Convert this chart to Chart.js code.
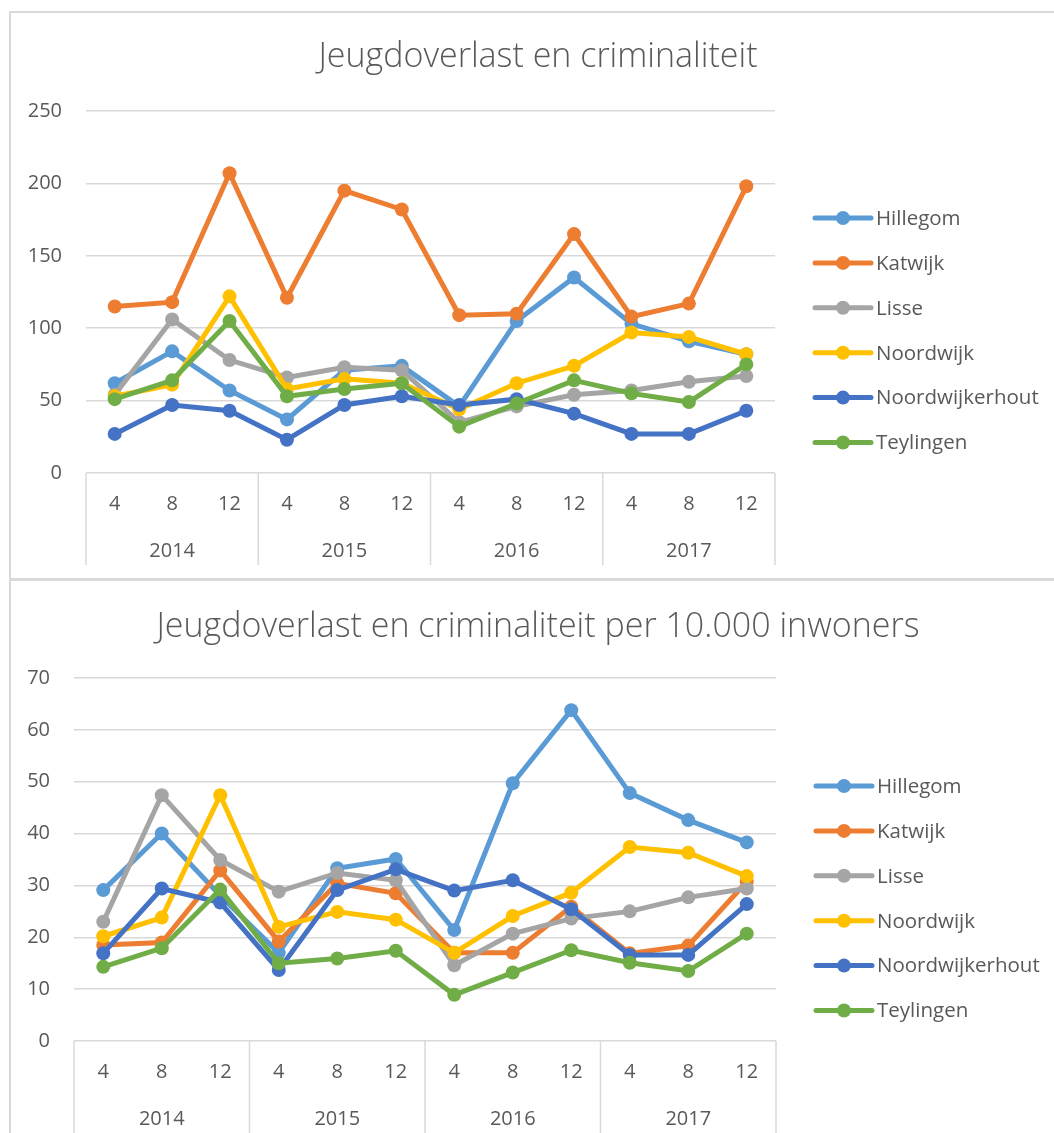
<!DOCTYPE html>
<html><head><meta charset="utf-8">
<script src="https://cdn.jsdelivr.net/npm/chart.js@4/dist/chart.umd.min.js"></script>
<style>
html,body{margin:0;padding:0;background:#fff;overflow:hidden;width:1054px;height:1133px;}
.box{position:absolute;border:2px solid #D9D9D9;box-sizing:border-box;}
.wrap{position:absolute;}
</style></head><body>
<div class="box" style="left:9px;top:11px;width:1060px;height:569px;"></div>
<div class="box" style="left:9px;top:579px;width:1060px;height:600px;"></div>
<div class="wrap" style="left:10px;top:12px;width:1044px;height:566px;"><canvas id="c1" width="1044" height="566"></canvas></div>
<div class="wrap" style="left:10px;top:580px;width:1044px;height:566px;"><canvas id="c2" width="1044" height="566"></canvas></div>
<script>
// ---- data ----
const years = ['2014','2015','2016','2017'];
const months = ['4','8','12'];
const seriesNames = ['Hillegom','Katwijk','Lisse','Noordwijk','Noordwijkerhout','Teylingen'];
const seriesColors = ['#5B9BD5','#ED7D31','#A5A5A5','#FFC000','#4472C4','#70AD47'];

const titleTotal = 'Jeugdoverlast en criminaliteit';
const totalHillegom        = [62, 84, 57, 37, 71, 74, 46, 105, 135, 103, 91, 82];
const totalKatwijk         = [115, 118, 207, 121, 195, 182, 109, 110, 165, 108, 117, 198];
const totalLisse           = [54, 106, 78, 66, 73, 71, 35, 46, 54, 57, 63, 67];
const totalNoordwijk       = [53, 61, 122, 58, 65, 62, 44, 62, 74, 97, 94, 82];
const totalNoordwijkerhout = [27, 47, 43, 23, 47, 53, 47, 51, 41, 27, 27, 43];
const totalTeylingen       = [51, 64, 105, 53, 58, 62, 32, 48, 64, 55, 49, 75];
const totalTicks = {min: 0, max: 250, step: 50};

const titlePer = 'Jeugdoverlast en criminaliteit per 10.000 inwoners';
const perHillegom        = [29.1, 40.0, 28.0, 17.0, 33.3, 35.1, 21.4, 49.7, 63.8, 47.8, 42.6, 38.3];
const perKatwijk         = [18.5, 19.0, 32.9, 19.2, 30.4, 28.5, 17.0, 17.0, 25.9, 16.9, 18.4, 30.7];
const perLisse           = [23.0, 47.4, 34.9, 28.8, 32.4, 31.0, 14.6, 20.7, 23.6, 25.0, 27.7, 29.4];
const perNoordwijk       = [20.2, 23.8, 47.4, 22.0, 24.9, 23.4, 17.0, 24.1, 28.6, 37.4, 36.3, 31.8];
const perNoordwijkerhout = [16.9, 29.4, 26.7, 13.7, 29.1, 33.1, 29.0, 31.0, 25.4, 16.6, 16.6, 26.4];
const perTeylingen       = [14.3, 17.9, 29.2, 15.0, 15.9, 17.4, 8.9, 13.2, 17.5, 15.1, 13.5, 20.7];
const perTicks = {min: 0, max: 70, step: 10};

// ---- rendering ----
const FONT = "'Open Sans', Lato, sans-serif";
const TEXT = '#595959';
const GRID = '#D9D9D9';
const categories = years.flatMap(() => months);

const groupSeparators = {
  id: 'groupSeparators',
  afterDraw(chart) {
    const xs = chart.scales.x, x2 = chart.scales.x2, ctx = chart.ctx;
    ctx.save();
    ctx.strokeStyle = GRID; ctx.lineWidth = 1.5;
    for (let g = 0; g <= years.length; g++) {
      const px = xs.getPixelForValue(g * months.length - 0.5);
      ctx.beginPath();
      ctx.moveTo(px, chart.chartArea.bottom);
      ctx.lineTo(px, x2.bottom - 4);
      ctx.stroke();
    }
    ctx.restore();
  }
};

const titleSpan = {
  id: 'titleSpan',
  afterLayout(chart, args, opts) {
    const t = chart.titleBlock;
    if (t) { t.left = opts.left; t.right = opts.right; t.width = opts.right - opts.left; }
  }
};

const sideLegend = {
  id: 'sideLegend',
  afterDraw(chart, args, opts) {
    const ctx = chart.ctx;
    const x0 = chart.chartArea.right + opts.offsetX;
    ctx.save();
    chart.data.datasets.forEach((ds, i) => {
      const y = opts.top + i * opts.step;
      ctx.strokeStyle = ds.borderColor; ctx.fillStyle = ds.borderColor;
      ctx.lineWidth = 5; ctx.lineCap = 'round';
      ctx.beginPath(); ctx.moveTo(x0, y); ctx.lineTo(x0 + 56, y); ctx.stroke();
      ctx.beginPath(); ctx.arc(x0 + 28, y, 7, 0, Math.PI * 2); ctx.fill();
      ctx.fillStyle = TEXT; ctx.font = '20.5px ' + FONT; ctx.textBaseline = 'middle'; ctx.textAlign = 'left';
      ctx.fillText(ds.label, x0 + 61, y + 1);
    });
    ctx.restore();
  }
};

function makeChart(id, title, seriesData, ticks, lay) {
  const datasets = seriesData.map((d, i) => ({
    label: seriesNames[i], data: d,
    borderColor: seriesColors[i], backgroundColor: seriesColors[i],
    pointBackgroundColor: seriesColors[i], pointBorderColor: seriesColors[i],
    borderWidth: 5, pointRadius: 7, pointBorderWidth: 0, pointHoverRadius: 7,
    tension: 0, order: seriesData.length - 1 - i
  }));
  return new Chart(document.getElementById(id), {
    type: 'line',
    data: { labels: categories, datasets },
    options: {
      responsive: false, animation: false, devicePixelRatio: 1,
      layout: { padding: { left: lay.left, right: lay.right, top: 0, bottom: 9 } },
      plugins: {
        legend: { display: false },
        tooltip: { enabled: false },
        title: { display: true, text: title, color: TEXT,
                 font: { family: FONT, size: 34, weight: '300', lineHeight: 1.2 },
                 padding: { top: lay.tTop, bottom: lay.tBottom } },
        titleSpan: { left: 12, right: 1044 },
        sideLegend: { offsetX: 40, top: 206, step: 44.9 }
      },
      scales: {
        x: { type: 'category', offset: true,
             grid: { display: false, drawTicks: false }, border: { display: false },
             ticks: { color: TEXT, font: { family: FONT, size: 20 }, padding: 19, maxRotation: 0, autoSkip: false },
             afterFit: s => { s.height = 46; } },
        x2: { type: 'category', labels: years, offset: true, position: 'bottom',
              grid: { display: false, drawTicks: false }, border: { display: false },
              ticks: { color: TEXT, font: { family: FONT, size: 20 }, padding: 20, maxRotation: 0 },
              afterFit: s => { s.height = 50; } },
        y: { min: ticks.min, max: ticks.max,
             grid: { color: GRID, lineWidth: 1.5, drawTicks: false }, border: { display: false },
             ticks: { stepSize: ticks.step, color: TEXT, font: { family: FONT, size: 20 }, padding: 24 },
             afterFit: s => { s.width = lay.yWidth; } }
      }
    },
    plugins: [titleSpan, groupSeparators, sideLegend]
  });
}

makeChart('c1', titleTotal,
  [totalHillegom, totalKatwijk, totalLisse, totalNoordwijk, totalNoordwijkerhout, totalTeylingen],
  totalTicks, { left: 6, yWidth: 70, right: 279, tTop: 24.6, tBottom: 33.6 });
makeChart('c2', titlePer,
  [perHillegom, perKatwijk, perLisse, perNoordwijk, perNoordwijkerhout, perTeylingen],
  perTicks, { left: 6, yWidth: 58, right: 278, tTop: 26.6, tBottom: 30.6 });
</script>
</body></html>
